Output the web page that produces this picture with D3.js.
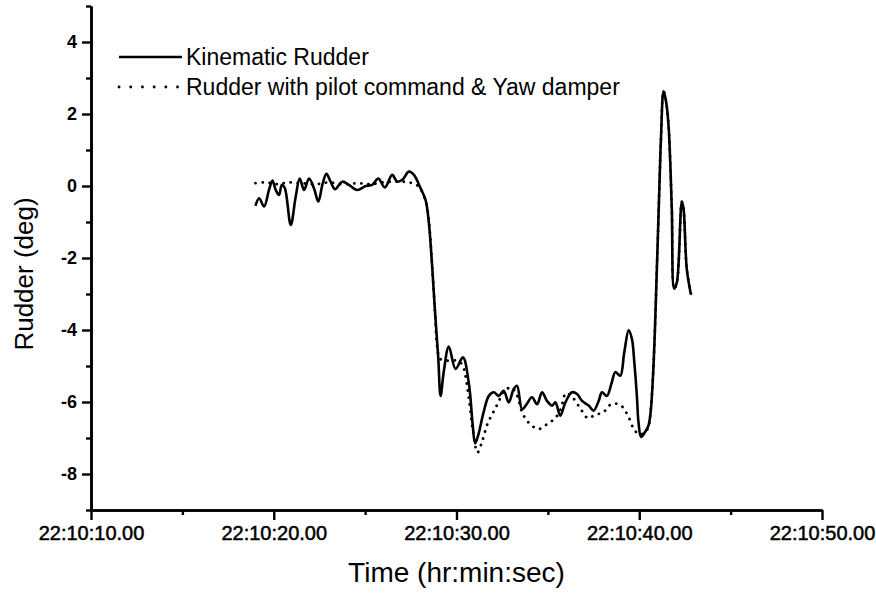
<!DOCTYPE html>
<html>
<head>
<meta charset="utf-8">
<script src="https://cdn.jsdelivr.net/npm/d3@7/dist/d3.min.js"></script>
<style>
  html, body { margin: 0; padding: 0; background: #fff; }
  svg { display: block; font-family: "Liberation Sans", Arial, sans-serif; }
</style>
</head>
<body>
<svg id="chart" width="876" height="593"></svg>
<script>
// Time in seconds past 22:10:00, rudder deflection in degrees
const kinTime = [19.0, 19.2, 19.47, 19.74, 19.93, 20.11, 20.29, 20.44, 20.6, 20.93, 21.2, 21.42, 21.66, 21.93, 22.2, 22.44, 22.66, 22.88, 23.11, 23.35, 23.75, 24.11, 24.57, 25.03, 25.39, 25.72, 26.08, 26.48, 26.76, 27.07, 27.39, 27.67, 28.03, 28.31, 28.49, 28.67, 28.82, 29.0, 29.13, 29.31, 29.58, 29.95, 30.35, 30.68, 30.88, 31.02, 31.2, 31.48, 31.77, 32.04, 32.31, 32.58, 32.86, 33.13, 33.31, 33.59, 33.85, 34.13, 34.41, 34.68, 34.95, 35.23, 35.41, 35.68, 35.96, 36.32, 36.6, 36.87, 37.23, 37.5, 37.78, 37.96, 38.23, 38.5, 38.69, 38.96, 39.18, 39.42, 39.6, 39.73, 39.87, 39.96, 40.1, 40.3, 40.5, 40.62, 40.78, 40.97, 41.11, 41.19, 41.33, 41.45, 41.6, 41.78, 41.91, 42.06, 42.33, 42.42, 42.6, 42.82];
const kinRudder = [-0.55, -0.34, -0.57, -0.11, 0.15, -0.11, -0.25, 0.03, -0.05, -1.08, -0.3, 0.21, -0.11, 0.21, -0.06, -0.43, 0.03, 0.34, 0.12, -0.09, 0.12, 0.03, -0.11, 0.0, 0.03, 0.21, -0.04, 0.31, 0.12, 0.19, 0.4, 0.31, -0.06, -0.39, -1.04, -2.25, -3.46, -4.76, -5.83, -5.13, -4.46, -5.08, -4.76, -5.5, -6.6, -7.15, -6.9, -6.29, -5.83, -5.73, -5.83, -5.69, -6.01, -5.64, -5.55, -6.2, -6.05, -5.87, -6.06, -5.73, -5.97, -6.1, -6.01, -6.38, -6.01, -5.73, -5.78, -5.97, -6.1, -6.24, -5.97, -5.73, -5.83, -5.45, -5.17, -5.27, -4.62, -4.01, -4.25, -4.9, -5.83, -6.57, -6.97, -6.85, -6.66, -6.29, -4.99, -2.2, 0.12, 1.33, 2.63, 2.4, 1.7, -0.62, -2.85, -2.67, -0.44, -0.62, -2.3, -2.99];

const cmdTime = [19.0, 19.6, 20.2, 20.8, 21.5, 22.3, 23.0, 23.8, 24.6, 25.3, 26.0, 26.8, 27.4, 27.9, 28.3, 28.5, 28.67, 28.82, 28.95, 29.1, 29.5, 30.0, 30.3, 30.5, 30.7, 30.9, 31.15, 31.4, 31.7, 32.0, 32.3, 32.6, 33.0, 33.3, 33.6, 34.0, 34.5, 35.0, 35.4, 35.7, 36.0, 36.4, 36.8, 37.2, 37.6, 38.0, 38.5, 39.0, 39.4, 39.7, 40.0, 40.3, 40.5, 40.62, 40.78, 40.97, 41.11, 41.19, 41.33, 41.45, 41.6, 41.78, 41.91, 42.06, 42.33, 42.42, 42.6, 42.85];
const cmdRudder = [0.08, 0.1, 0.05, 0.1, 0.08, 0.05, 0.1, 0.05, 0.08, 0.05, 0.1, 0.12, 0.1, 0.0, -0.4, -1.04, -2.25, -3.46, -4.5, -4.8, -4.85, -4.85, -4.95, -5.3, -6.0, -6.8, -7.4, -7.1, -6.6, -6.3, -6.0, -5.7, -5.6, -5.8, -6.3, -6.6, -6.75, -6.6, -6.45, -6.2, -5.75, -5.9, -6.2, -6.45, -6.35, -6.3, -6.05, -6.1, -6.4, -6.75, -6.9, -6.85, -6.7, -6.29, -4.99, -2.2, 0.12, 1.33, 2.63, 2.4, 1.7, -0.62, -2.85, -2.67, -0.44, -0.62, -2.3, -3.05];

const xMajorTicks = [10, 20, 30, 40, 50];
const xMinorTicks = [15, 25, 35, 45];
const yMajorTicks = [-8, -6, -4, -2, 0, 2, 4];
const yMinorTicks = [-9, -7, -5, -3, -1, 1, 3, 5];

const seriesNames = ["Kinematic Rudder", "Rudder with pilot command & Yaw damper"];
const xTitle = "Time (hr:min:sec)";
const yTitle = "Rudder (deg)";

const svg = d3.select("#chart");
const plotLeft = 91, plotRight = 822, plotTop = 6, plotBottom = 510;

const x = d3.scaleLinear().domain([10, 50]).range([plotLeft, plotRight]);
const y = d3.scaleLinear().domain([-9, 5]).range([plotBottom, plotTop]);

const fmtTime = s => "22:10:" + d3.format("02d")(s) + ".00";
const fmtDeg = v => String(v);   // plain hyphen for negatives

// Axes: major ticks with labels, then minor ticks without
const xAxisG = svg.append("g").attr("transform", `translate(0,${plotBottom})`)
  .call(d3.axisBottom(x).tickValues(xMajorTicks).tickFormat(fmtTime).tickSize(10).tickPadding(6).tickSizeOuter(0));
svg.append("g").attr("transform", `translate(0,${plotBottom})`)
  .call(d3.axisBottom(x).tickValues(xMinorTicks).tickFormat("").tickSize(5).tickSizeOuter(0));

const yAxisG = svg.append("g").attr("transform", `translate(${plotLeft},0)`)
  .call(d3.axisLeft(y).tickValues(yMajorTicks).tickFormat(fmtDeg).tickSize(9).tickPadding(5).tickSizeOuter(0));
svg.append("g").attr("transform", `translate(${plotLeft},0)`)
  .call(d3.axisLeft(y).tickValues(yMinorTicks).tickFormat("").tickSize(5).tickSizeOuter(0));

svg.selectAll(".domain").attr("stroke", "#000").attr("stroke-width", 2.6);
svg.selectAll(".tick line").attr("stroke", "#000").attr("stroke-width", 2.4);

xAxisG.selectAll(".tick text")
  .attr("fill", "#000").attr("font-size", 20).attr("stroke", "#000").attr("stroke-width", 0.5)
  .attr("font-family", "Liberation Sans, Arial, sans-serif");
yAxisG.selectAll(".tick text")
  .attr("fill", "#000").attr("font-size", 18).attr("font-weight", "bold")
  .attr("font-family", "Liberation Sans, Arial, sans-serif");

// Axis titles
svg.append("text")
  .attr("x", (plotLeft + plotRight) / 2).attr("y", 582)
  .attr("text-anchor", "middle").attr("font-size", 28).attr("fill", "#000")
  .text(xTitle);
svg.append("text")
  .attr("transform", `translate(33,274) rotate(-90)`)
  .attr("text-anchor", "middle").attr("font-size", 26).attr("fill", "#000")
  .text(yTitle);

// Series lines
const line = d3.line()
  .x(d => x(d[0])).y(d => y(d[1]))
  .curve(d3.curveCatmullRom.alpha(0.5));

const cmdData = cmdTime.map((t, i) => [t, cmdRudder[i]]);
const kinData = kinTime.map((t, i) => [t, kinRudder[i]]);

svg.append("path").datum(cmdData)
  .attr("d", line).attr("fill", "none").attr("stroke", "#000")
  .attr("stroke-width", 2.8).attr("stroke-linecap", "round")
  .attr("stroke-dasharray", "0.1 7");

svg.append("path").datum(kinData)
  .attr("d", line).attr("fill", "none").attr("stroke", "#000")
  .attr("stroke-width", 2.6).attr("stroke-linejoin", "round");

// Legend
const legend = svg.append("g");
const legendRows = [
  { name: seriesNames[0], dash: null, y: 57 },
  { name: seriesNames[1], dash: "0.1 11.6", y: 87 }
];
legendRows.forEach(r => {
  legend.append("line")
    .attr("x1", 119).attr("x2", 182).attr("y1", r.y).attr("y2", r.y)
    .attr("stroke", "#000").attr("stroke-width", r.dash ? 2.8 : 2.4)
    .attr("stroke-linecap", r.dash ? "round" : "butt")
    .attr("stroke-dasharray", r.dash);
  legend.append("text")
    .attr("x", 186).attr("y", r.y + 8)
    .attr("font-size", 23).attr("fill", "#000")
    .text(r.name);
});
</script>
</body>
</html>
